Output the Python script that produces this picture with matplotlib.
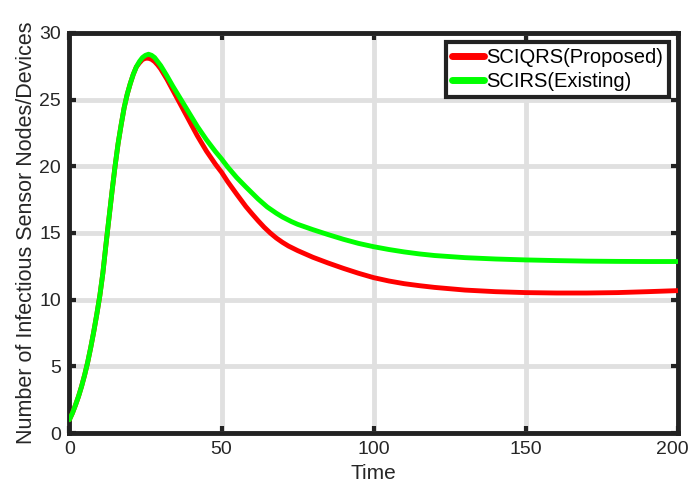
import matplotlib
matplotlib.use("Agg")
import matplotlib.pyplot as plt
import matplotlib.transforms as mtrans

plt.rcParams['font.family'] = ['Liberation Sans', 'DejaVu Sans']

# shared rising phase
t_rise = [0, 1, 2, 3, 4, 5, 6, 7, 8, 9, 10, 11, 12, 13, 14, 15, 16, 17, 18,
          19, 20, 21, 22]
y_rise = [1.0, 1.5, 2.1, 2.75, 3.5, 4.35, 5.3, 6.4, 7.6, 8.9, 10.3, 12.0, 14.1,
          16.1, 18.1, 20.0, 21.7, 23.1, 24.4, 25.4, 26.2, 26.9, 27.45]

t_red = [23, 24, 25, 26, 27, 28, 29, 30, 32, 34, 36, 38, 40, 42, 45, 48, 50,
         52, 55, 58, 60, 62, 64, 66, 68, 70, 72, 75, 80, 85, 90, 95, 100, 105,
         110, 115, 120, 130, 140, 150, 160, 170, 180, 190, 200]
y_red = [27.75, 28.0, 28.1, 28.1, 28.02, 27.85, 27.6, 27.3, 26.55, 25.7, 24.85,
         24.0, 23.15, 22.3, 21.15, 20.15, 19.55, 18.85, 17.9, 16.98, 16.44,
         15.92, 15.43, 15.0, 14.62, 14.3, 14.02, 13.68, 13.18, 12.75, 12.35,
         11.98, 11.65, 11.4, 11.2, 11.05, 10.92, 10.72, 10.6, 10.53, 10.5, 10.5,
         10.53, 10.6, 10.68]

t_green = [23, 24, 25, 26, 27, 28, 30, 32, 34, 36, 38, 40, 42, 45, 48, 50, 52,
           55, 58, 60, 62, 65, 68, 70, 73, 75, 80, 85, 90, 95, 100, 105, 110,
           115, 120, 130, 140, 150, 160, 170, 180, 190, 200]
y_green = [27.85, 28.15, 28.32, 28.4, 28.32, 28.15, 27.55, 26.8, 26.0, 25.25,
           24.5, 23.75, 23.0, 22.0, 21.1, 20.55, 19.95, 19.15, 18.45, 18.0,
           17.55, 16.95, 16.48, 16.2, 15.85, 15.65, 15.25, 14.88, 14.53, 14.22,
           13.97, 13.76, 13.58, 13.43, 13.31, 13.15, 13.05, 12.98, 12.93, 12.89,
           12.87, 12.86, 12.86]

labels = ['SCIQRS(Proposed)', 'SCIRS(Existing)']
xticks = [0, 50, 100, 150, 200]
yticks = [0, 5, 10, 15, 20, 25, 30]

fig = plt.figure(figsize=(6.94, 4.91), dpi=100)
ax = fig.add_axes([0.100, 0.118, 0.877, 0.815])

ax.plot(t_rise + t_red, y_rise + y_red, color='#ff0000', lw=3.5, label=labels[0],
        zorder=3, solid_joinstyle='round', solid_capstyle='round')
ax.plot(t_rise + t_green, y_rise + y_green, color='#00ff00', lw=3.5, label=labels[1],
        zorder=3, solid_joinstyle='round', solid_capstyle='round')

ax.set_xlim(0, 200)
ax.set_ylim(0, 30)
ax.set_xticks(xticks)
ax.set_yticks(yticks)
ax.grid(True, color='#e0e0e0', lw=3.5)
ax.set_axisbelow(True)
for s in ax.spines.values():
    s.set_linewidth(3.5)
    s.set_color('#222222')
ax.tick_params(direction='in', length=5, width=3, color='#222222',
               labelsize=14, labelcolor='#262626', top=True, right=True, pad=6)
ax.set_xlabel('Time', fontsize=15, color='#262626', labelpad=4)
ax.set_ylabel('Number of Infectious Sensor Nodes/Devices', fontsize=15.5,
              color='#262626', labelpad=2)

# nudge the last x tick label slightly left so it fits inside the figure
last = ax.get_xticklabels()[-1]
last.set_transform(last.get_transform() +
                   mtrans.ScaledTranslation(-4 / 72, 0, fig.dpi_scale_trans))

leg = ax.legend(loc='upper right', fontsize=14.5, frameon=True, fancybox=False,
                borderaxespad=0.45, handlelength=1.6, handletextpad=0.1,
                borderpad=0.3, labelspacing=0.25)
leg.get_frame().set_edgecolor('#222222')
leg.get_frame().set_linewidth(3)
leg.get_frame().set_alpha(1)
for line in leg.get_lines():
    line.set_linewidth(5)

fig.savefig('out.png', dpi=100)
